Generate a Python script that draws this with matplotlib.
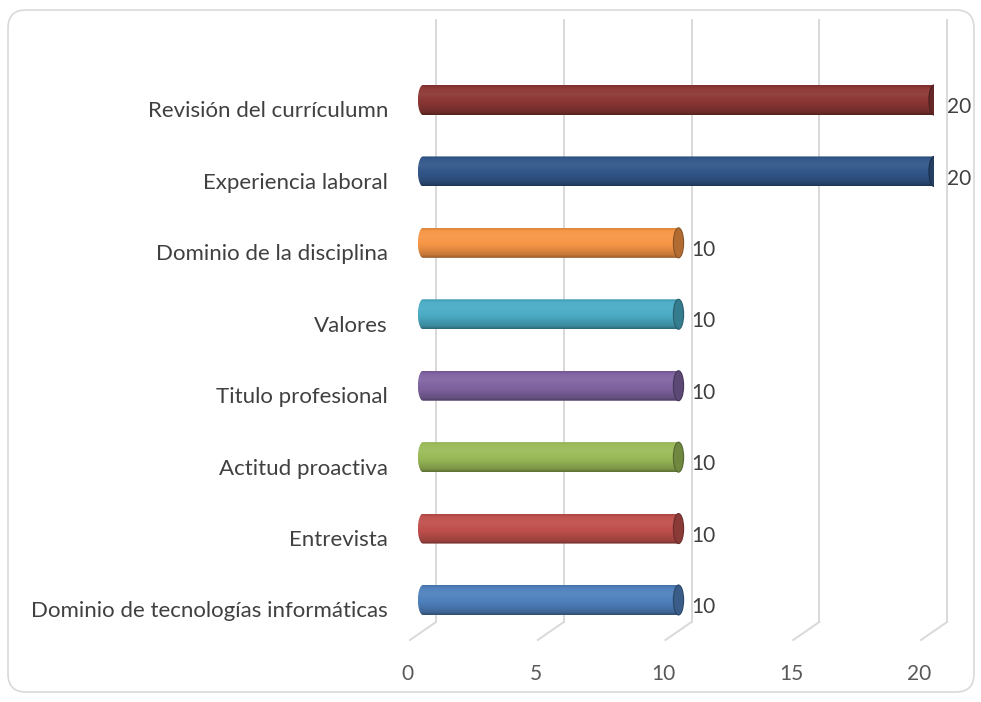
import numpy as np
import matplotlib.pyplot as plt
from matplotlib.patches import Ellipse, FancyBboxPatch, PathPatch
from matplotlib.path import Path
from matplotlib.colors import to_rgb

plt.rcParams['font.family'] = ['Lato', 'DejaVu Sans']

# data (bottom to top)
categories = ["Dominio de tecnologías informáticas", "Entrevista", "Actitud proactiva",
              "Titulo profesional", "Valores", "Dominio de la disciplina",
              "Experiencia laboral", "Revisión del currículumn"]
values = [10, 10, 10, 10, 10, 10, 20, 20]
colors = ["#4F81BD", "#C0504D", "#9BBB59", "#8064A2", "#4BACC6", "#F79646",
          "#32578A", "#8C3735"]
ticks = [0, 5, 10, 15, 20]


def shade(c, f):
    c = np.array(to_rgb(c))
    if f < 1:
        return c * f
    return c + (1 - c) * (f - 1)


def main():
    fig = plt.figure(figsize=(9.81, 7.02), dpi=100)

    # rounded frame
    bg = fig.add_axes([0, 0, 1, 1])
    bg.set_xlim(0, 981)
    bg.set_ylim(702, 0)
    bg.axis('off')
    bg.add_patch(FancyBboxPatch((8, 10), 966, 682, boxstyle="round,pad=0,rounding_size=18",
                                facecolor='white', edgecolor='#D9D9D9', lw=1.2))

    # x from -1 to 20 ; 25.55 px per unit, 0 at px 423
    ax = fig.add_axes([(423 - 25.55) / 981, 1 - 640 / 702, 21 * 25.55 / 981, 620 / 702])
    ax.axis('off')
    ylo, yhi = -0.56, 8.12
    hx, hy = 0.51, 0.126          # half depth of 3d box in data units
    yb = ylo + 2 * hy             # back wall bottom

    # back wall gridlines + floor lines
    for t in ticks:
        ax.plot([t + hx, t + hx], [yb, yhi], color='#D9D9D9', lw=1.4, zorder=1, clip_on=False)
        ax.plot([t + hx, t - hx], [yb, ylo], color='#D9D9D9', lw=1.4, zorder=1, clip_on=False)
        ax.text(t - hx - 0.08, -1.04, str(t), ha='center', va='center',
                fontsize=15, color='#595959', clip_on=False)

    h = 0.42
    rx = 0.2
    n = 60
    tt = np.linspace(0, 1, n)
    prof = np.interp(tt, [0, 0.1, 0.4, 0.7, 0.9, 1], [0.6, 0.8, 0.97, 1.06, 1.02, 0.88])
    for i, (cat, v, c) in enumerate(zip(categories, values, colors)):
        grad = np.array([shade(c, f) for f in prof]).reshape(n, 1, 3)
        im = ax.imshow(grad, extent=[-rx, v, i - h / 2, i + h / 2], origin='lower',
                       aspect='auto', interpolation='bilinear', zorder=3)
        th = np.linspace(np.pi / 2, 3 * np.pi / 2, 30)
        verts = list(zip(rx * np.cos(th), i + h / 2 * np.sin(th)))
        verts += [(v, i - h / 2), (v, i + h / 2), verts[0]]
        codes = [Path.MOVETO] + [Path.LINETO] * (len(verts) - 2) + [Path.CLOSEPOLY]
        clip = PathPatch(Path(verts, codes), transform=ax.transData,
                         facecolor='none', edgecolor='none')
        ax.add_patch(clip)
        im.set_clip_path(clip)
        ax.add_patch(Ellipse((v, i), 2 * rx, h, facecolor=shade(c, 0.72),
                             edgecolor=shade(c, 0.55), lw=0.8, zorder=4))
        ax.text(v + 0.5, i - 0.1, str(v), ha='left', va='center', fontsize=15,
                color='#404040', clip_on=False)
        ax.text(-1.37, i - 0.16, cat, ha='right', va='center', fontsize=16,
                color='#404040', clip_on=False)

    ax.set_xlim(-1, 20)
    ax.set_ylim(ylo, yhi)
    fig.savefig('out.png', dpi=100)
    plt.close()


if __name__ == '__main__':
    main()
